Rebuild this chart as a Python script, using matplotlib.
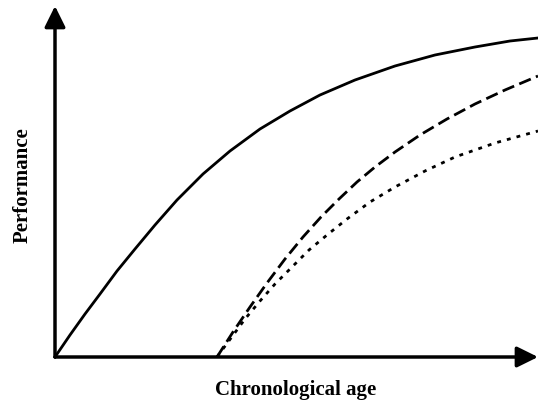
import matplotlib
matplotlib.use("Agg")
import matplotlib.pyplot as plt

# curve values (arbitrary age / performance units)
solid_age = [0, 15, 30, 45, 62, 80, 100, 122, 148, 175, 205, 235, 265, 300, 340, 380, 420, 455, 483]
solid_perf = [0, 22, 43, 63, 86, 108, 132, 157, 183, 206, 228, 246, 262, 277, 291, 302, 310, 316, 319]

dashed_age = [162, 178, 195, 212, 230, 248, 266, 284, 302, 320, 340, 365, 392, 420, 450, 483]
dashed_perf = [0, 25, 50, 74, 98, 120, 140, 158, 175, 190, 205, 222, 238, 253, 267, 281]

dotted_age = [162, 176, 190, 205, 220, 236, 254, 272, 292, 315, 340, 370, 400, 440, 483]
dotted_perf = [0, 19, 38, 56, 73, 89, 107, 122, 138, 155, 170, 186, 200, 214, 226]

age_max = 483
perf_max = 351

W, H = 538, 401
fig = plt.figure(figsize=(W / 100, H / 100), dpi=100)
ax = fig.add_axes([55 / W, 44 / H, 483 / W, 351 / H])
ax.set_xlim(0, age_max)
ax.set_ylim(0, perf_max)
ax.axis("off")

# the three curves
ax.plot(solid_age, solid_perf, color="black", lw=2.0, solid_joinstyle="round", clip_on=False)
ax.plot(dashed_age, dashed_perf, color="black", lw=2.0, linestyle=(0, (4.5, 2.0)), clip_on=False)
ax.plot(dotted_age, dotted_perf, color="black", lw=2.0, linestyle=(0, (1.4, 2.2)), clip_on=False)

# axes drawn as arrows
arrow = dict(arrowstyle="-|>,head_length=0.85,head_width=0.42", lw=2.5, color="black",
             mutation_scale=15, shrinkA=0, shrinkB=0)
ax.annotate("", xy=(age_max, 0), xytext=(0, 0), arrowprops=arrow, annotation_clip=False)
ax.annotate("", xy=(0, perf_max), xytext=(0, 0), arrowprops=arrow, annotation_clip=False)

font = dict(family="Liberation Serif", fontweight="bold", fontsize=15)
fig.text(23 / W, 1 - 185 / H, "Performance", rotation=90, ha="center", va="center", **font)
fig.text(296 / W, 1 - 390 / H, "Chronological age", ha="center", va="center", **font)

fig.savefig("out.png", dpi=100)
